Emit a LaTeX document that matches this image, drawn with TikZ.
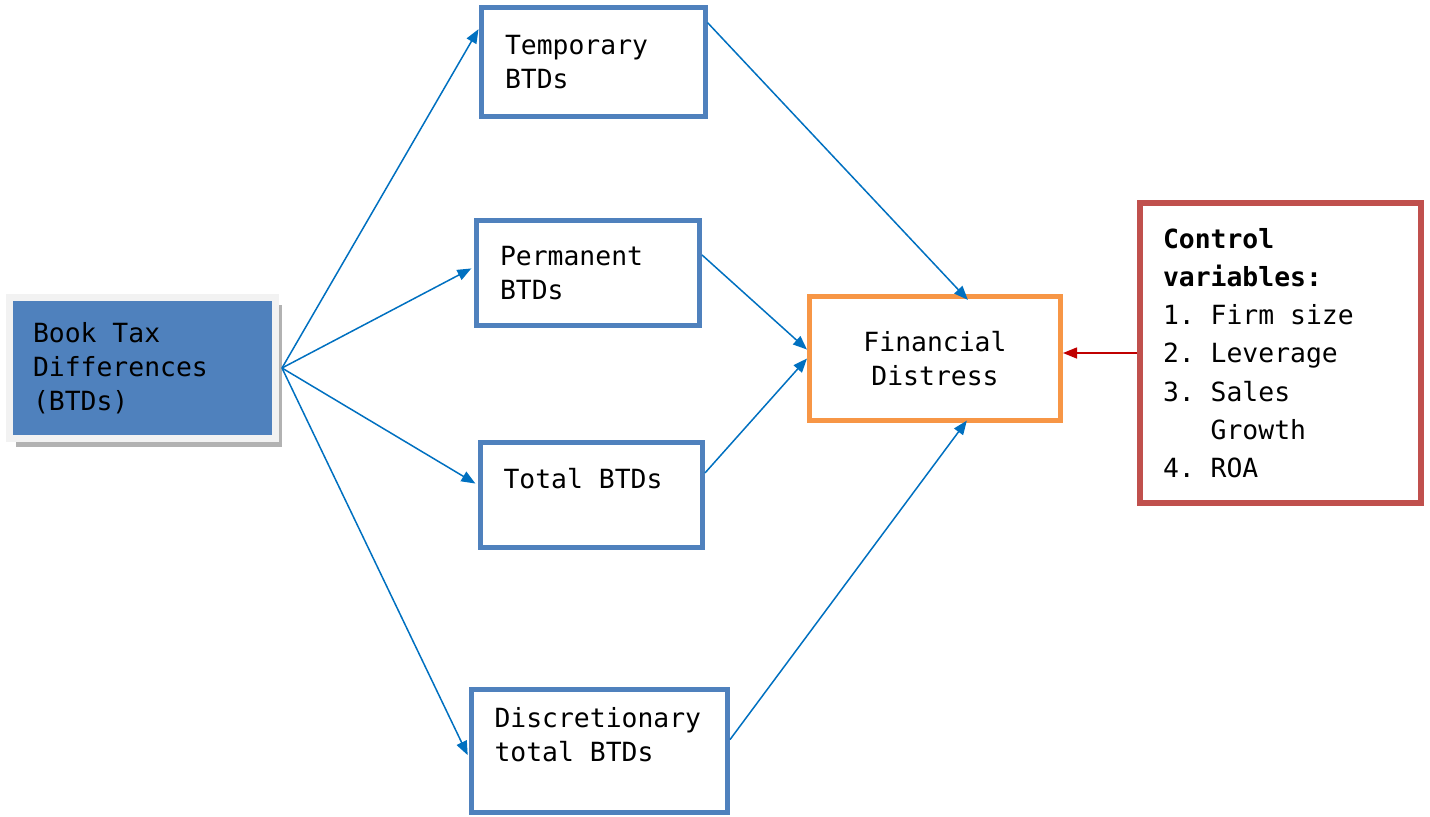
\documentclass[tikz,border=0pt]{standalone}
\usepackage{fontspec}
\setmonofont{DejaVu Sans Mono}
\usetikzlibrary{arrows.meta, shadows}
\definecolor{btdblue}{RGB}{79, 129, 189}
\definecolor{distorange}{RGB}{247, 150, 70}
\definecolor{ctrlred}{RGB}{192, 80, 77}
\definecolor{arrowblue}{RGB}{0, 112, 192}
\definecolor{arrowred}{RGB}{192, 0, 0}
\DeclareRobustCommand\boxfont{\ttfamily\fontsize{13.2}{17}\selectfont}
\DeclareRobustCommand\ctrlfont{\ttfamily\fontsize{13.2}{19.1}\selectfont}
% one full monospace cell
\newcommand\wsp{\hspace*{0.602em}}

\begin{document}
\begin{tikzpicture}[x=0.5pt, y=-0.5pt,
  every node/.style={font=\boxfont},
  btdbox/.style={draw=btdblue, line width=2.5pt, fill=white, align=left, inner sep=0pt},
  link/.style={draw=arrowblue, line width=0.75pt, -{Triangle[length=7pt, width=5.5pt]}}
]
  \useasboundingbox (0,0) rectangle (1430,816);

  % independent variable
  \node[fill=btdblue, draw=gray!10, line width=3.5pt,
        drop shadow={shadow xshift=3pt, shadow yshift=-4pt, fill=gray!60, opacity=1},
        minimum width=133pt, minimum height=70.75pt, text width=109.5pt, align=left, inner sep=0pt]
        (book) at (142.5,368) {Book\wsp Tax\\Differences\\(BTDs)};

  % the four kinds of BTDs
  \node[btdbox, minimum width=112pt, minimum height=54.5pt, text width=88pt] (temp) at (593,62) {Temporary\\BTDs};
  \node[btdbox, minimum width=111.5pt, minimum height=52.5pt, text width=88pt] (perm) at (588,273) {Permanent\\BTDs};
  \node[btdbox, minimum width=111pt, minimum height=52.5pt, text width=88pt] (total) at (591.5,495) {Total\wsp BTDs\\\mbox{}};
  \node[btdbox, minimum width=128pt, minimum height=61.25pt, text width=105pt] (disc) at (599.5,751) {Discretionary\\total\wsp BTDs\\\mbox{}};

  % dependent variable
  \node[draw=distorange, line width=2.5pt, fill=white, align=center, minimum width=125.5pt, minimum height=62pt] (fin) at (935,358.5) {Financial\\Distress};

  % controls
  \node[draw=ctrlred, line width=3.25pt, fill=white, align=left, inner sep=0pt,
        minimum width=140.5pt, minimum height=150pt, text width=117.5pt, font=\ctrlfont]
        (ctrl) at (1280.5,353) {\textbf{Control}\\\textbf{variables:}\\1.\wsp Firm\wsp size\\2.\wsp Leverage\\3.\wsp Sales\\\wsp\wsp\wsp Growth\\4.\wsp ROA};

  \coordinate (src) at ([xshift=1.5pt]book.east);
  \draw[link] (src) -- (temp.164);
  \draw[link, shorten >=1.5pt] (src) -- (perm.177);
  \draw[link, shorten >=1.5pt] (src) -- (total.175);
  \draw[link, shorten >=1.5pt] (src) -- (disc.183);
  \draw[link, shorten >=-4pt] (temp.19) -- (fin.67);
  \draw[link] (perm.9) -- (fin.176);
  \draw[link] (total.11) -- (fin.180);
  \draw[link, shorten >=-1.5pt] (disc.5) -- (fin.-65);
  \draw[draw=arrowred, line width=0.75pt, -{Triangle[length=7pt, width=5.5pt]}] (ctrl.west) -- (ctrl.west -| fin.east);
\end{tikzpicture}
\end{document}
